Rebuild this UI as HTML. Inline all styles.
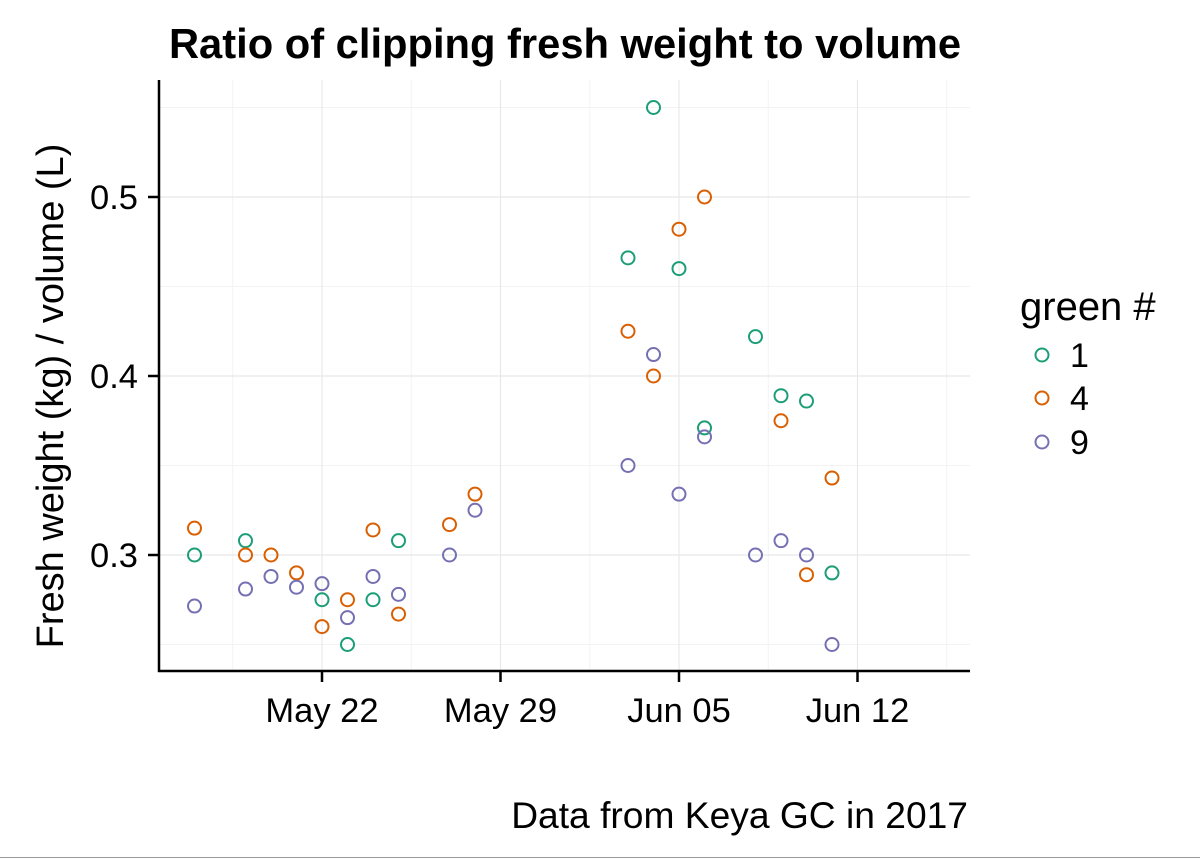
<!DOCTYPE html>
<html><head><meta charset="utf-8"><style>
html,body{margin:0;padding:0;background:#fff;}
svg{display:block;font-family:"Liberation Sans",Arial,sans-serif;}
</style></head><body>
<svg id="chart" width="1200" height="859" viewBox="0 0 1200 859">
<text x="565" y="58" text-anchor="middle" font-size="41.7" font-weight="bold">Ratio of clipping fresh weight to volume</text>
<g id="grid"></g>
<g id="points"></g>
<g id="axes"></g>
<text transform="translate(63,396) rotate(-90)" text-anchor="middle" font-size="38">Fresh weight (kg) / volume (L)</text>
<text x="968" y="828" text-anchor="end" font-size="37.2">Data from Keya GC in 2017</text>
<g>
<text x="1020" y="320" font-size="40">green #</text>
<circle cx="1042" cy="355" r="6.5" fill="none" stroke="#1b9e77" stroke-width="2"/>
<text x="1070" y="367" font-size="34">1</text>
<circle cx="1042" cy="398" r="6.5" fill="none" stroke="#d95f02" stroke-width="2"/>
<text x="1070" y="410" font-size="34">4</text>
<circle cx="1042" cy="442" r="6.5" fill="none" stroke="#7570b3" stroke-width="2"/>
<text x="1070" y="454" font-size="34">9</text>
</g>
<line x1="0" y1="857.5" x2="1200" y2="857.5" stroke="#999" stroke-width="1"/>
</svg>
<script>
// data: day offsets from May 22
const daysG1 = [-5,-3,0,1,2,3,12,13,14,15,17,18,19,20];
const valsG1 = [0.300,0.308,0.275,0.250,0.275,0.308,0.466,0.550,0.460,0.371,0.422,0.389,0.386,0.290];
const daysG4 = [-5,-3,-2,-1,0,1,2,3,5,6,12,13,14,15,18,19,20];
const valsG4 = [0.315,0.300,0.300,0.290,0.260,0.275,0.314,0.267,0.317,0.334,0.425,0.400,0.482,0.500,0.375,0.289,0.343];
const daysG9 = [-5,-3,-2,-1,0,1,2,3,5,6,12,13,14,15,17,18,19,20];
const valsG9 = [0.2715,0.281,0.288,0.282,0.284,0.265,0.288,0.278,0.300,0.325,0.350,0.412,0.334,0.366,0.300,0.308,0.300,0.250];
const xTickDays = [0,7,14,21];
const xTickLabels = ["May 22","May 29","Jun 05","Jun 12"];
const yTicks = [0.3,0.4,0.5];
const yTickLabels = ["0.3","0.4","0.5"];
const yMinor = [0.25,0.35,0.45,0.55];
const xMinor = [-3.5,3.5,10.5,17.5,24.5];

const NS="http://www.w3.org/2000/svg";
const L=159,R=970,T=80,B=671;
const x=d=>322+d*25.5;
const y=v=>555-(v-0.3)*1790;
function mk(p,tag,at){const e=document.createElementNS(NS,tag);for(const k in at)e.setAttribute(k,at[k]);p.appendChild(e);return e;}
const grid=document.getElementById('grid'),pts=document.getElementById('points'),axes=document.getElementById('axes');
yMinor.forEach(v=>{const e=mk(grid,'line',{x1:L,x2:R,y1:y(v),y2:y(v),stroke:'#f3f3f3','stroke-width':1});

});
xMinor.forEach(d=>{const e=mk(grid,'line',{x1:x(d),x2:x(d),y1:T,y2:B,stroke:'#f3f3f3','stroke-width':1});

});
yTicks.forEach(v=>{const e=mk(grid,'line',{x1:L,x2:R,y1:y(v),y2:y(v),stroke:'#e8e8e8','stroke-width':1.2});

});
xTickDays.forEach(d=>{const e=mk(grid,'line',{x1:x(d),x2:x(d),y1:T,y2:B,stroke:'#e8e8e8','stroke-width':1.2});

});
function series(days,vals,col,name){days.forEach((d,i)=>{const c=mk(pts,'circle',{cx:x(d),cy:y(vals[i]),r:6.5,fill:'none',stroke:col,'stroke-width':2});

});}
series(daysG1,valsG1,'#1b9e77','point-green-1');
series(daysG4,valsG4,'#d95f02','point-green-4');
series(daysG9,valsG9,'#7570b3','point-green-9');
let a=mk(axes,'line',{x1:L,x2:L,y1:T,y2:B+1,stroke:'#000','stroke-width':2.5});


a=mk(axes,'line',{x1:L-1,x2:R,y1:B,y2:B,stroke:'#000','stroke-width':2.5});


yTicks.forEach((v,i)=>{const t=mk(axes,'line',{x1:L-11,x2:L,y1:y(v),y2:y(v),stroke:'#000','stroke-width':2.5});


const tx=mk(axes,'text',{x:L-21,y:y(v)+12,'text-anchor':'end','font-size':34.5});tx.textContent=yTickLabels[i];

});
xTickDays.forEach((d,i)=>{const t=mk(axes,'line',{x1:x(d),x2:x(d),y1:B,y2:B+11,stroke:'#000','stroke-width':2.5});


const tx=mk(axes,'text',{x:x(d),y:B+51,'text-anchor':'middle','font-size':34.5});tx.textContent=xTickLabels[i];

});
</script>
</body></html>
